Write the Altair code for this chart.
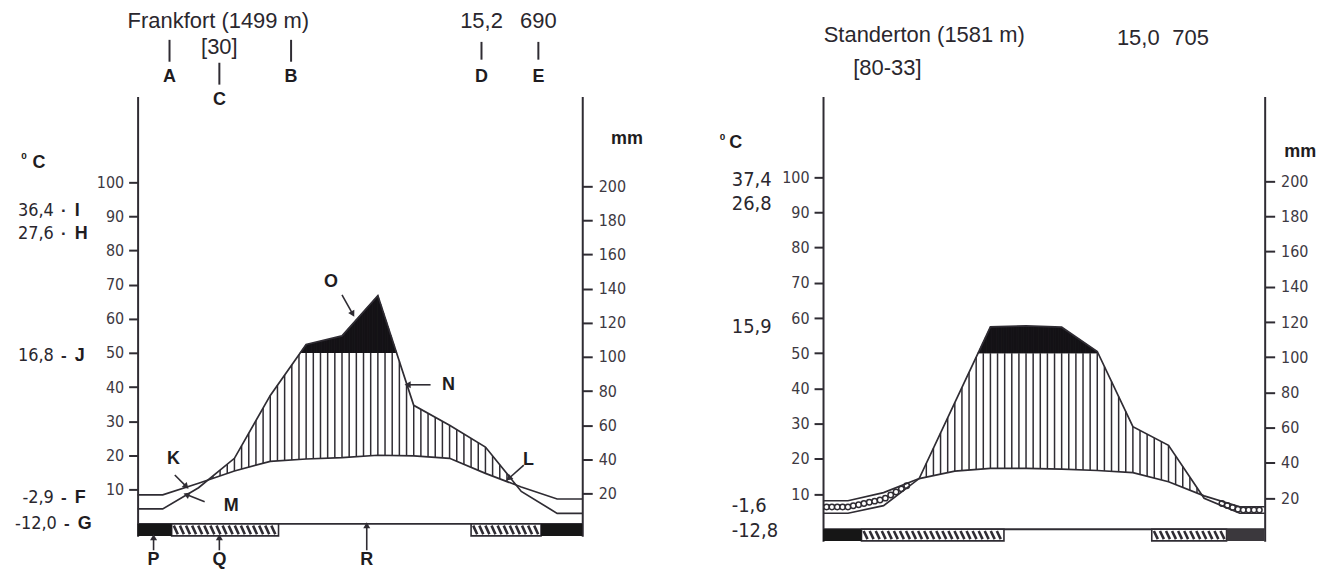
import math
import altair as alt
import pandas as pd

# ---------------- data ----------------
MONTHS = ["Jul", "Aug", "Sep", "Oct", "Nov", "Dec", "Jan", "Feb", "Mar", "Apr", "May", "Jun"]

FRANK_TEMP = [8.5, 11.9, 15.5, 18.3, 19.0, 19.4, 20.1, 19.9, 19.2, 14.8, 10.8, 7.3]      # degC
FRANK_PREC = [8.8, 21.2, 38.4, 75.2, 105.0, 110.0, 133.6, 69.4, 57.7, 45.0, 19.0, 6.2]   # mm
STAND_TEMP = [8.1, 10.4, 14.4, 16.5, 17.3, 17.3, 17.1, 16.7, 16.1, 13.5, 9.5, 6.4]
STAND_PREC = [9.1, 13.4, 28.8, 72.0, 115.0, 115.5, 114.8, 101.0, 58.3, 47.7, 17.6, 9.1]

# frost bars (start, end, colour) in month units
FRANK_BLACK = [(-0.7, 0.25, "#161616"), (10.55, 11.7, "#161616")]
FRANK_HATCH = [(0.25, 3.23), (8.6, 10.55)]
STAND_BLACK = [(-0.7, 0.38, "#161616"), (10.63, 11.7, "#3b383d")]
STAND_HATCH = [(0.38, 4.38), (8.53, 10.63)]

TICKS = [10, 20, 30, 40, 50, 60, 70, 80, 90, 100]
X_MIN, X_MAX = -0.7, 11.7
INK = "#2f2c33"
NUM_FONT = "DejaVu Sans Condensed, Roboto, sans-serif"
TXT_FONT = "Liberation Sans, Arial, sans-serif"

# annotation texts (x in month units, y in degC units)
FRANK_TITLE = [("Frankfort (1499 m)", 1.552, 147.2), ("[30]", 1.58, 139.6),
               ("15,2", 8.89, 147.2), ("690", 10.476, 147.2)]
FRANK_LETTERS = [("A", 0.19, 130.8), ("B", 3.58, 130.8), ("C", 1.58, 124.1), ("D", 8.89, 130.8),
                 ("E", 10.476, 130.8), ("K", 0.30, 19.1), ("M", 1.91, 5.2), ("O", 4.69, 70.8),
                 ("N", 7.97, 40.7), ("L", 10.20, 18.6), ("P", -0.255, -10.6), ("Q", 1.58, -10.6),
                 ("R", 5.69, -10.6), ("mm", 12.95, 112.5), ("C", -3.45, 105.5)]
FRANK_SMALL = [("0", -3.87, 107.6)]
FRANK_NUMS = [("36,4", -3.035, 91.5), ("27,6", -3.035, 84.8), ("16,8", -3.035, 49.2),
              ("-2,9", -3.035, 7.5), ("-12,0", -2.952, -0.1)]
FRANK_SEPS = [("·", -2.757, 91.5), ("·", -2.757, 84.8), ("-", -2.757, 49.2),
              ("-", -2.757, 7.5), ("-", -2.674, -0.1)]
FRANK_KEYS = [("I", -2.452, 91.5), ("H", -2.452, 84.8), ("J", -2.452, 49.2),
              ("F", -2.452, 7.5), ("G", -2.368, -0.1)]
FRANK_MARKS = [(0.19, 141.6, 135.2), (3.58, 141.6, 135.2), (1.58, 134.9, 128.5),
               (8.89, 141.0, 135.8), (10.476, 141.0, 135.8)]
FRANK_ARROWS = [(0.337, 14.3, 0.66, 10.9), (1.17, 6.5, 0.66, 8.6), (5.0, 67.0, 5.30, 61.4),
                (7.47, 40.7, 6.83, 40.7), (10.07, 17.2, 9.65, 13.3),
                (-0.255, -7.7, -0.255, -3.9), (1.58, -7.7, 1.58, -3.9), (5.69, -7.7, 5.69, -0.4)]

STAND_TITLE = [("Standerton (1581 m)", 2.143, 140.5), ("[80-33]", 1.107, 131.1),
               ("15,0", 8.15, 139.6), ("705", 9.62, 139.6)]
STAND_LETTERS = [("mm", 12.70, 107.3), ("C", -3.15, 109.6)]
STAND_SMALL = [("0", -3.52, 111.5)]
STAND_NUMS = [("37,4", -3.263, 99.1), ("26,8", -3.263, 92.3), ("15,9", -3.263, 57.5),
              ("-1,6", -3.263, 6.5), ("-12,8", -3.263, -0.6)]


def texts(rows):
    return pd.DataFrame(rows, columns=["label", "x", "y"])


def panel(temp, prec, black, hatch, width, height, ydom, annot, dots):
    xs = alt.Scale(domain=[X_MIN, X_MAX], nice=False, zero=False)
    ys = alt.Scale(domain=ydom, nice=False, zero=False)
    pxm = width / (X_MAX - X_MIN)
    pxu = height / (ydom[1] - ydom[0])

    df = pd.DataFrame({
        "x": [X_MIN] + list(range(12)) + [X_MAX],
        "t": [temp[0]] + temp + [temp[-1]],
        "mm": [prec[0]] + prec + [prec[-1]],
    })

    def interp(step):
        return (alt.Chart(df)
                .transform_calculate(p="datum.mm / 2")
                .transform_window(x1="lead(x)", t1="lead(t)", p1="lead(p)", sort=[{"field": "x"}])
                .transform_filter("datum.x1 != null")
                .transform_calculate(hx=f"sequence(ceil(datum.x / {step}) * {step}, datum.x1, {step})")
                .transform_flatten(["hx"])
                .transform_calculate(f="(datum.hx - datum.x) / (datum.x1 - datum.x)")
                .transform_calculate(ht="datum.t + datum.f * (datum.t1 - datum.t)",
                                     hp="datum.p + datum.f * (datum.p1 - datum.p)"))

    X = lambda f: alt.X(f, scale=xs, axis=None)
    Y = lambda f: alt.Y(f, scale=ys, axis=None)

    hatch_rules = (interp(0.2)
                   .transform_filter("datum.hp > datum.ht + 0.3")
                   .transform_calculate(top="min(datum.hp, 50)")
                   .mark_rule(color=INK, strokeWidth=1.5)
                   .encode(x=X("hx:Q"), y=Y("ht:Q"), y2="top:Q"))

    black_fill = (interp(0.02)
                  .transform_filter("datum.hp > 50")
                  .transform_calculate(lo="50")
                  .mark_rule(color="#141216", strokeWidth=1.4)
                  .encode(x=X("hx:Q"), y=Y("lo:Q"), y2="hp:Q"))

    layers = [hatch_rules, black_fill]

    if dots:
        dot_layer = (interp(0.15)
                     .transform_filter("datum.ht > datum.hp + 1.2")
                     .transform_calculate(mid="(datum.ht + datum.hp) / 2")
                     .mark_point(shape="circle", size=30, filled=True, fill="white",
                                 stroke=INK, strokeWidth=1.5, opacity=1)
                     .encode(x=X("hx:Q"), y=Y("mid:Q")))
        layers.append(dot_layer)

    temp_line = (alt.Chart(df).mark_line(color=INK, strokeWidth=1.7)
                 .encode(x=X("x:Q"),
                         y=alt.Y("t:Q", scale=ys,
                                 axis=alt.Axis(values=TICKS, orient="left", title=None, grid=False,
                                               tickSize=9, tickWidth=2, domainWidth=2,
                                               labelPadding=5, labelFont=NUM_FONT, labelFontSize=16,
                                               labelColor="#3d3942", tickColor=INK, domainColor=INK))))
    prec_line = (alt.Chart(df).transform_calculate(p="datum.mm / 2")
                 .mark_line(color=INK, strokeWidth=1.7)
                 .encode(x=X("x:Q"),
                         y=alt.Y("p:Q", scale=ys,
                                 axis=alt.Axis(values=TICKS, orient="right", title=None, grid=False,
                                               labelExpr="datum.value * 2", tickOffset=4,
                                               tickSize=10, tickWidth=2, domainWidth=2,
                                               labelPadding=6, labelFont=NUM_FONT, labelFontSize=16,
                                               labelColor="#3d3942", tickColor=INK, domainColor=INK))))
    layers += [temp_line, prec_line]

    base = pd.DataFrame({"x0": [X_MIN], "x1": [X_MAX], "y": [0.0]})
    layers.append(alt.Chart(base).mark_rule(color=INK, strokeWidth=1.8)
                  .encode(x=X("x0:Q"), x2="x1:Q", y=Y("y:Q")))

    bdf = pd.DataFrame(black, columns=["s", "e", "col"]).assign(y0=0.0, y1=ydom[0] + 0.1)
    hdf = pd.DataFrame(hatch, columns=["s", "e"]).assign(y0=0.0, y1=ydom[0] + 0.1)
    layers.append(alt.Chart(hdf).mark_rect(fill="white", stroke=INK, strokeWidth=1.6)
                  .encode(x=X("s:Q"), x2="e:Q", y=Y("y0:Q"), y2="y1:Q"))
    layers.append(alt.Chart(hdf)
                  .transform_calculate(hx="sequence(datum.s + 0.06, datum.e - 0.14, 0.17)")
                  .transform_flatten(["hx"])
                  .transform_calculate(hx2="datum.hx + 0.11", ya="-0.5", yb="datum.y1 + 0.5")
                  .mark_rule(color=INK, strokeWidth=2.6)
                  .encode(x=X("hx:Q"), x2="hx2:Q", y=Y("ya:Q"), y2="yb:Q"))
    layers.append(alt.Chart(bdf).mark_rect()
                  .encode(x=X("s:Q"), x2="e:Q", y=Y("y0:Q"), y2="y1:Q",
                          fill=alt.Fill("col:N", scale=None)))

    def text_layer(rows, font, size, weight="normal", align="center", color=INK):
        return (alt.Chart(texts(rows))
                .mark_text(font=font, fontSize=size, fontWeight=weight, align=align,
                           baseline="middle", color=color)
                .encode(x=X("x:Q"), y=Y("y:Q"), text="label:N"))

    layers.append(text_layer(annot["title"], TXT_FONT, 22, color="#2a272e"))
    layers.append(text_layer(annot["letters"], TXT_FONT, 18, weight="bold", color="#1e1c21"))
    layers.append(text_layer(annot["small"], TXT_FONT, 10, weight="bold", color="#1e1c21"))
    if annot.get("seps"):
        layers.append(text_layer(annot["nums"], NUM_FONT, 18, align="right", color="#2a272e"))
        layers.append(text_layer(annot["seps"], TXT_FONT, 17, weight="bold", color="#2a272e"))
        layers.append(text_layer(annot["keys"], TXT_FONT, 18, weight="bold", align="left", color="#1e1c21"))
    else:
        layers.append(text_layer(annot["nums"], NUM_FONT, 20, align="left", color="#2a272e"))

    if annot.get("marks"):
        mdf = pd.DataFrame(annot["marks"], columns=["x", "y0", "y1"])
        layers.append(alt.Chart(mdf).mark_rule(color=INK, strokeWidth=2)
                      .encode(x=X("x:Q"), y=Y("y0:Q"), y2="y1:Q"))
    if annot.get("arrows"):
        adf = pd.DataFrame(annot["arrows"], columns=["x0", "y0", "x1", "y1"])
        adf["ang"] = [math.degrees(math.atan2((r.x1 - r.x0) * pxm, (r.y1 - r.y0) * pxu)) % 360
                      for r in adf.itertuples()]
        layers.append(alt.Chart(adf).mark_rule(color=INK, strokeWidth=1.6)
                      .encode(x=X("x0:Q"), x2="x1:Q", y=Y("y0:Q"), y2="y1:Q"))
        layers.append(alt.Chart(adf).mark_point(shape="triangle-up", filled=True, size=50,
                                                color=INK, opacity=1)
                      .encode(x=X("x1:Q"), y=Y("y1:Q"), angle=alt.Angle("ang:Q", scale=None)))

    return (alt.layer(*layers)
            .resolve_axis(y="independent")
            .properties(width=width, height=height))


left = panel(FRANK_TEMP, FRANK_PREC, FRANK_BLACK, FRANK_HATCH, 446, 441, [-3.6, 125.0],
             {"title": FRANK_TITLE, "letters": FRANK_LETTERS, "small": FRANK_SMALL,
              "nums": FRANK_NUMS, "seps": FRANK_SEPS, "keys": FRANK_KEYS,
              "marks": FRANK_MARKS, "arrows": FRANK_ARROWS}, dots=False)
right = panel(STAND_TEMP, STAND_PREC, STAND_BLACK, STAND_HATCH, 443, 446, [-3.4, 122.9],
              {"title": STAND_TITLE, "letters": STAND_LETTERS, "small": STAND_SMALL,
               "nums": STAND_NUMS}, dots=True)

chart = (alt.hconcat(left, right, spacing=241.5, bounds="flush")
         .properties(padding={"left": 7, "top": 0, "right": 5, "bottom": 5}, background="white")
         .configure_view(strokeWidth=0))

chart.save("out.html", embed_options={"renderer": "svg", "actions": False})
